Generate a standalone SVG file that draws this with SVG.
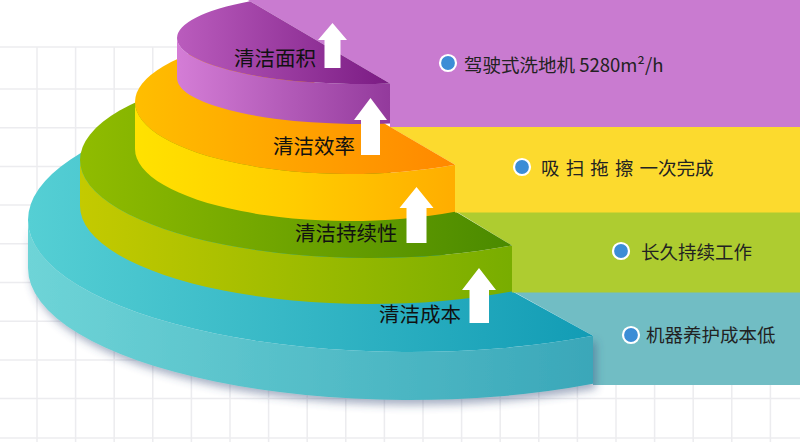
<svg xmlns="http://www.w3.org/2000/svg" width="800" height="442" viewBox="0 0 800 442">
  <style>
    .grid line { stroke: #ECECEF; stroke-width: 1.5; }
    .lbl { font-family: "Noto Sans CJK SC", "Noto Sans", sans-serif; font-size: 20.5px; fill: #111; }
    .txt { font-family: "Noto Sans CJK SC", "Noto Sans", sans-serif; font-size: 18.5px; fill: #222; }
    .dot { fill: #3C8DD6; stroke: #ffffff; stroke-width: 2.2; }
    .arrow { fill: #ffffff; }
  </style>
  <defs>
    <linearGradient id="gPTop" x1="0" y1="0" x2="1" y2="0"><stop offset="0" stop-color="#BA5CBD"/><stop offset="1" stop-color="#7A1B83"/></linearGradient>
    <linearGradient id="gPWall" x1="0" y1="0" x2="1" y2="0"><stop offset="0" stop-color="#D47DD6"/><stop offset="1" stop-color="#933A9C"/></linearGradient>
    <linearGradient id="gOTop" x1="0" y1="0" x2="1" y2="0"><stop offset="0" stop-color="#FFBE00"/><stop offset="1" stop-color="#FF8800"/></linearGradient>
    <linearGradient id="gOWall" x1="0" y1="0" x2="1" y2="0"><stop offset="0" stop-color="#FFE200"/><stop offset="0.5" stop-color="#FFCC00"/><stop offset="1" stop-color="#FFAD00"/></linearGradient>
    <linearGradient id="gGTop" x1="0" y1="0" x2="1" y2="0"><stop offset="0" stop-color="#90BC00"/><stop offset="1" stop-color="#4A8A00"/></linearGradient>
    <linearGradient id="gGWall" x1="0" y1="0" x2="1" y2="0"><stop offset="0" stop-color="#C4CA00"/><stop offset="1" stop-color="#78AD00"/></linearGradient>
    <linearGradient id="gTTop" x1="0" y1="0" x2="1" y2="0"><stop offset="0" stop-color="#55CFD4"/><stop offset="1" stop-color="#129CB5"/></linearGradient>
    <linearGradient id="gTWall" x1="0" y1="0" x2="1" y2="0"><stop offset="0" stop-color="#6ED4D7"/><stop offset="1" stop-color="#3AA7B9"/></linearGradient>
    <filter id="shadow" x="-10%" y="-10%" width="120%" height="140%">
      <feDropShadow dx="3" dy="5" stdDeviation="4" flood-color="#3D4F7A" flood-opacity="0.45"/>
    </filter>
  </defs>

  <rect x="0" y="0" width="800" height="442" fill="#ffffff"/>
  <g class="grid">
    <line x1="0" y1="47" x2="800" y2="47"/>
    <line x1="0" y1="89" x2="800" y2="89"/>
    <line x1="0" y1="127.7" x2="800" y2="127.7"/>
    <line x1="0" y1="166.4" x2="800" y2="166.4"/>
    <line x1="0" y1="205.1" x2="800" y2="205.1"/>
    <line x1="0" y1="243.8" x2="800" y2="243.8"/>
    <line x1="0" y1="282.5" x2="800" y2="282.5"/>
    <line x1="0" y1="321.2" x2="800" y2="321.2"/>
    <line x1="0" y1="359.9" x2="800" y2="359.9"/>
    <line x1="0" y1="398.6" x2="800" y2="398.6"/>
    <line x1="0" y1="438" x2="800" y2="438"/>
    <line x1="37" y1="47" x2="37" y2="442"/>
    <line x1="75.6" y1="47" x2="75.6" y2="442"/>
    <line x1="114.2" y1="47" x2="114.2" y2="442"/>
    <line x1="152.8" y1="47" x2="152.8" y2="442"/>
    <line x1="191.4" y1="47" x2="191.4" y2="442"/>
    <line x1="230" y1="47" x2="230" y2="442"/>
    <line x1="268.6" y1="47" x2="268.6" y2="442"/>
    <line x1="307.2" y1="47" x2="307.2" y2="442"/>
    <line x1="345.8" y1="47" x2="345.8" y2="442"/>
    <line x1="384.4" y1="47" x2="384.4" y2="442"/>
    <line x1="423" y1="47" x2="423" y2="442"/>
    <line x1="461.6" y1="47" x2="461.6" y2="442"/>
    <line x1="500.2" y1="47" x2="500.2" y2="442"/>
    <line x1="538.8" y1="47" x2="538.8" y2="442"/>
    <line x1="577.4" y1="47" x2="577.4" y2="442"/>
    <line x1="616" y1="47" x2="616" y2="442"/>
    <line x1="654.6" y1="47" x2="654.6" y2="442"/>
    <line x1="693.2" y1="47" x2="693.2" y2="442"/>
    <line x1="731.8" y1="47" x2="731.8" y2="442"/>
    <line x1="770.4" y1="47" x2="770.4" y2="442"/>
  </g>

  <g id="tier-cost">
    <path d="M513.2,291.5 H800 V385 H593 V335.87 Z" fill="#71BDC4"/>
    <path d="M28,220 A382,132 0 0 0 593,335.87 L593,383.87 A382,132 0 0 1 28,268 Z" fill="url(#gTWall)" filter="url(#shadow)"/>
    <path d="M187.5,112.7 A382,132 0 0 0 28,220 A382,132 0 0 0 593,335.87 Z" fill="url(#gTTop)"/>
  </g>

  <g id="tier-durability">
    <path d="M456.25,211.5 H800 V292.5 H512 V245.45 Z" fill="#AECC30"/>
    <path d="M80,160 A290,98 0 0 0 512,245.45 L512,291.45 A290,98 0 0 1 80,206 Z" fill="url(#gGWall)"/>
    <path d="M227.5,74.7 A290,98 0 0 0 80,160 A290,98 0 0 0 512,245.45 Z" fill="url(#gGTop)"/>
  </g>

  <g id="tier-efficiency">
    <path d="M390.3,127 H800 V212.5 H455 V164.83 Z" fill="#FCDA2E"/>
    <path d="M135,102 A215,72 0 0 0 455,164.83 L455,211.83 A215,72 0 0 1 135,149 Z" fill="url(#gOWall)"/>
    <path d="M241.3,39.9 A215,72 0 0 0 135,102 A215,72 0 0 0 455,164.83 Z" fill="url(#gOTop)"/>
  </g>

  <g id="tier-area">
    <path d="M247.9,0 H800 V127 H390 V83.38 Z" fill="#C97BD0"/>
    <path d="M177,38 A183,46 0 0 0 390,83.38 L390,123.38 A183,46 0 0 1 177,78 Z" fill="url(#gPWall)"/>
    <path d="M250,1.24 A183,46 0 0 0 177,38 A183,46 0 0 0 390,83.38 Z" fill="url(#gPTop)"/>
  </g>

  <g id="arrows">
    <path class="arrow" d="M332.5,23 L347,40 L340.5,40 L340.5,68 L324.5,68 L324.5,40 L318,40 Z"/>
    <path class="arrow" d="M370.5,98 L387,120 L380,120 L380,155 L361,155 L361,120 L354,120 Z"/>
    <path class="arrow" d="M416.5,187 L433.5,208 L426.5,208 L426.5,243 L406.5,243 L406.5,208 L399.5,208 Z"/>
    <path class="arrow" d="M479,268 L496,290 L489,290 L489,323 L469.5,323 L469.5,290 L462,290 Z"/>
  </g>

  <g id="labels">
    <text class="lbl" x="234" y="66">清洁面积</text>
    <text class="lbl" x="273" y="154">清洁效率</text>
    <text class="lbl" x="295" y="240.5">清洁持续性</text>
    <text class="lbl" x="379" y="322">清洁成本</text>
  </g>

  <g id="item-area">
    <circle class="dot" cx="448" cy="63" r="8"/>
    <text class="txt" x="464" y="71.5">驾驶式洗地机 5280m²/h</text>
  </g>
  <g id="item-efficiency">
    <circle class="dot" cx="522" cy="167" r="8"/>
    <text class="txt" x="541" y="175" word-spacing="2">吸 扫 拖 擦 一次完成</text>
  </g>
  <g id="item-durability">
    <circle class="dot" cx="621" cy="251" r="8"/>
    <text class="txt" x="641" y="258.5">长久持续工作</text>
  </g>
  <g id="item-cost">
    <circle class="dot" cx="631" cy="335" r="8"/>
    <text class="txt" x="646" y="342">机器养护成本低</text>
  </g>
</svg>
